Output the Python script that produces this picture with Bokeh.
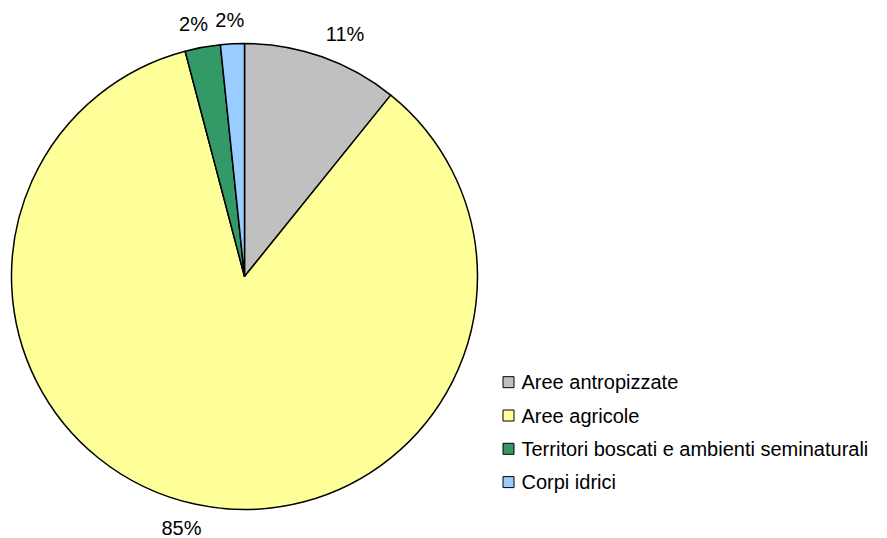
import math
from bokeh.plotting import figure
from bokeh.models import Range1d, ColumnDataSource
from bokeh.core.properties import value
from bokeh.embed import file_html
from bokeh.resources import INLINE

categories = ["Aree antropizzate", "Aree agricole",
              "Territori boscati e ambienti seminaturali", "Corpi idrici"]
shares = [10.8, 85.1, 2.45, 1.65]
colors = ["#C0C0C0", "#FFFF99", "#339966", "#99CCFF"]

W, H = 887, 538
cx, cy, r = 244, H - 276, 233
font = value("Liberation Sans")

p = figure(width=W, height=H, x_range=Range1d(0, W), y_range=Range1d(0, H),
           output_backend="svg", toolbar_location=None, min_border=0)
p.axis.visible = False
p.grid.visible = False
p.outline_line_color = None
p.background_fill_color = "white"
p.border_fill_color = "white"

total = sum(shares)
starts, ends, mids = [], [], []
cum = 0.0
for s in shares:
    a0 = cum / total
    cum += s
    a1 = cum / total
    starts.append(math.pi / 2 - a0 * 2 * math.pi)
    ends.append(math.pi / 2 - a1 * 2 * math.pi)
    mids.append((a0 + a1) / 2 * 2 * math.pi)  # clockwise from top

src = ColumnDataSource(dict(start=starts, end=ends, color=colors))
p.wedge(x=cx, y=cy, radius=r, start_angle="start", end_angle="end",
        direction="clock", fill_color="color", line_color="black",
        line_width=1.5, source=src)

# percentage labels
lx, ly, lt = [], [], []
R = 248
for s, th in zip(shares, mids):
    txt = f"{round(s / total * 100)}%"
    w = 12.0 * len(txt)
    sx, cyv = math.sin(th), math.cos(th)
    lx.append(cx + R * sx + w / 2 * max(-1, min(1, sx * 3)))
    ly.append(cy + R * cyv + 9 * (1 if cyv > 0 else -1))
    lt.append(txt)
p.text(x=lx, y=ly, text=lt, text_font=font, text_font_size="20px",
       text_align="center", text_baseline="middle", text_color="black")

# legend
leg_y = [H - 381.7 - i * 33.3 for i in range(len(categories))]
p.rect(x=[508] * len(categories), y=leg_y, width=11, height=11,
       fill_color=colors, line_color="black", line_width=1)
p.text(x=[521] * len(categories), y=leg_y, text=categories, text_font=font,
       text_font_size="20px", text_align="left", text_baseline="middle",
       text_color="black")

open("out.html", "w").write(file_html(p, INLINE))
